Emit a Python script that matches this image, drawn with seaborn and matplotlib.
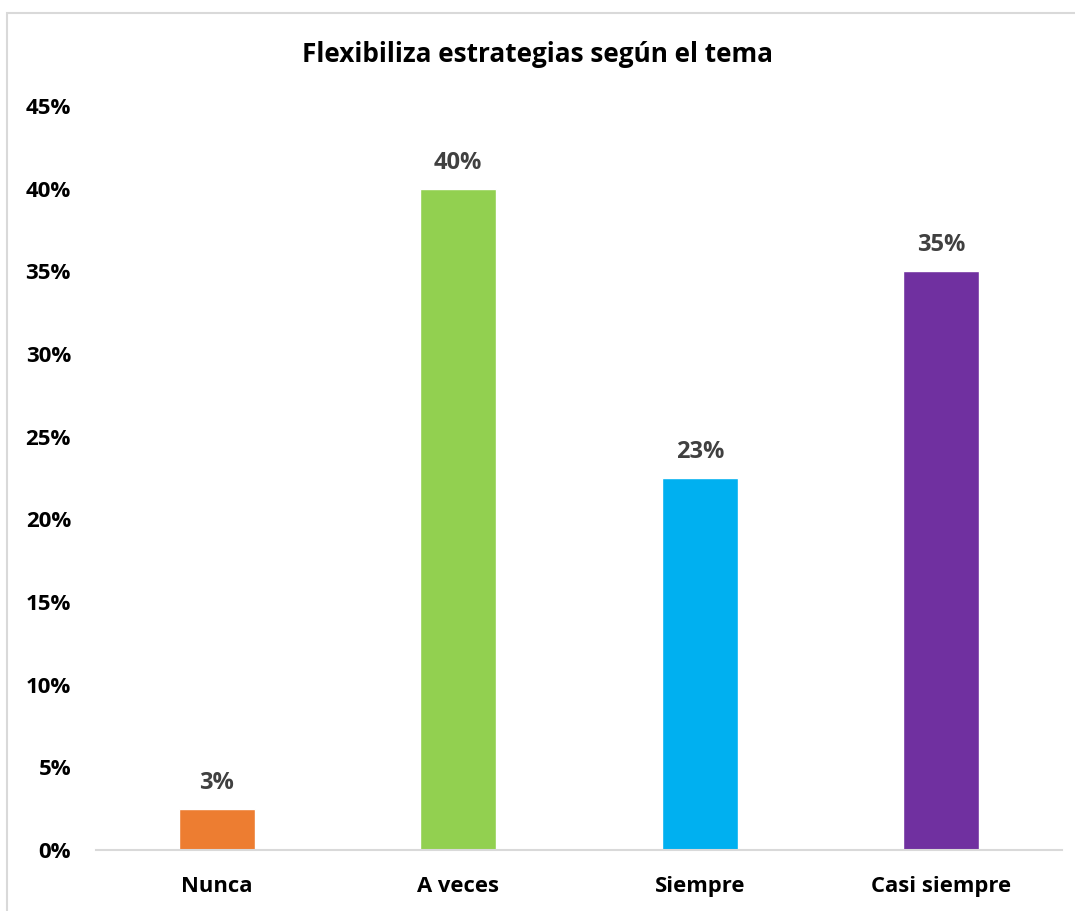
import matplotlib
matplotlib.use("Agg")
import matplotlib.pyplot as plt
import matplotlib.patches as mpatches
import seaborn as sns
import pandas as pd

# data
categorias = ["Nunca", "A veces", "Siempre", "Casi siempre"]
valores = [2.5, 40.0, 22.5, 35.0]
etiquetas = ["3%", "40%", "23%", "35%"]
colores = ["#ED7D31", "#92D050", "#00B0F0", "#7030A0"]
ticks_y = [0, 5, 10, 15, 20, 25, 30, 35, 40, 45]

df = pd.DataFrame({"categoria": categorias, "valor": valores})

sns.set_style("white")
plt.rcParams["font.family"] = ["Open Sans", "DejaVu Sans"]
plt.rcParams["text.color"] = "black"
plt.rcParams["xtick.color"] = "black"
plt.rcParams["ytick.color"] = "black"

fig = plt.figure(figsize=(10.75, 9.11), dpi=100)
ax = fig.add_axes([96 / 1075, 1 - 850 / 911, (1062 - 96) / 1075, (850 - 106) / 911])

sns.barplot(data=df, x="categoria", y="valor", hue="categoria", palette=colores,
            legend=False, width=0.315, ax=ax, saturation=1)

for i, (v, t) in enumerate(zip(valores, etiquetas)):
    ax.annotate(t, (i, v), xytext=(0, 10), textcoords="offset points",
                ha="center", va="bottom", fontsize=17, fontweight="bold", color="#404040")

ax.set_ylim(0, 45)
ax.set_xlim(-0.5, 3.5)
ax.set_yticks(ticks_y)
ax.set_yticklabels([f"{t}%" for t in ticks_y], fontsize=16, fontweight="bold")
ax.tick_params(axis="x", labelsize=15.8, pad=19)
for lab in ax.get_xticklabels():
    lab.set_fontweight("bold")
ax.tick_params(axis="y", pad=18, length=0)
ax.tick_params(axis="x", length=0)
ax.set_xlabel("")
ax.set_ylabel("")
for s in ["top", "right", "left"]:
    ax.spines[s].set_visible(False)
ax.spines["bottom"].set_color("#D9D9D9")
ax.spines["bottom"].set_linewidth(1.5)

fig.text(0.5, 1 - 55 / 911, "Flexibiliza estrategias según el tema", ha="center", va="center",
         fontsize=18.8, fontweight="bold")

fig.patches.append(mpatches.Rectangle((7 / 1075, -0.02), 1.1, 1 - 13 / 911 + 0.02, transform=fig.transFigure,
                                      fill=False, edgecolor="#D9D9D9", linewidth=1.5))

fig.savefig("out.png", dpi=100)
